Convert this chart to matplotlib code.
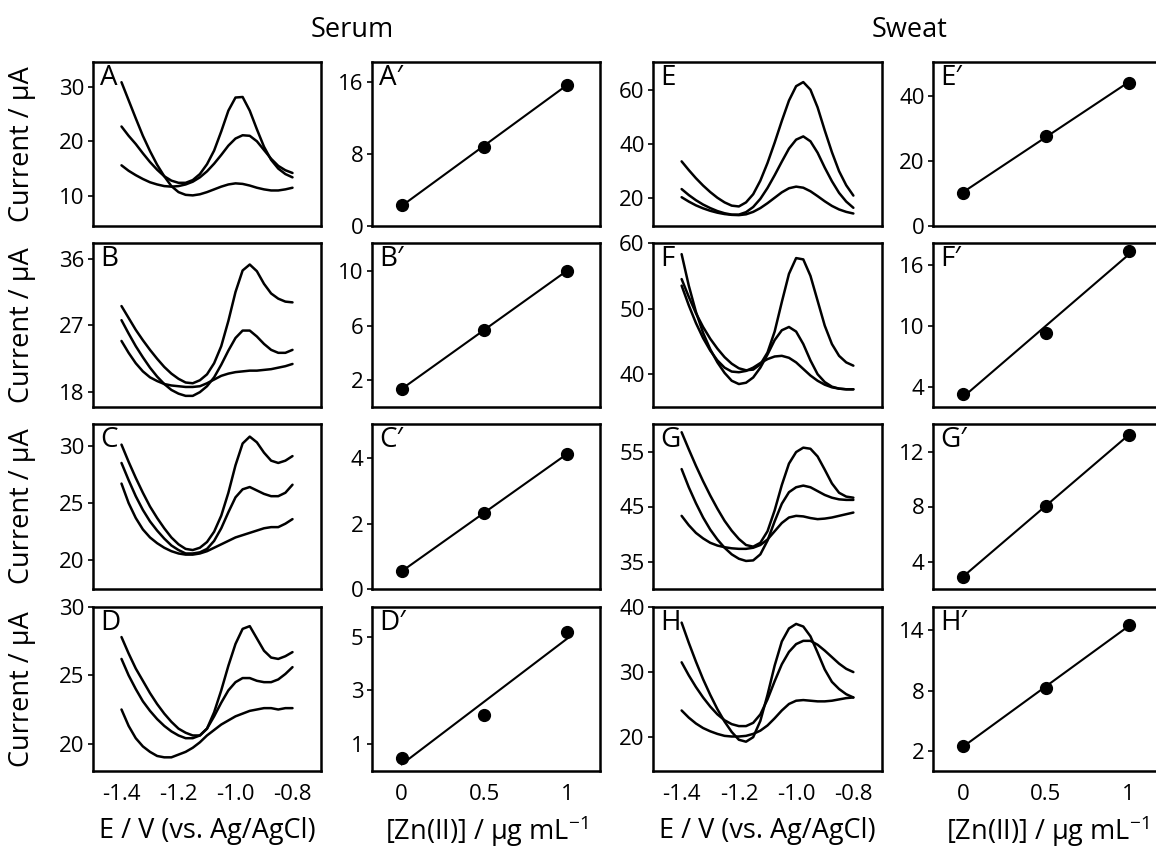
import matplotlib
matplotlib.use("Agg")
import matplotlib.pyplot as plt
import numpy as np

plt.rcParams['font.family'] = ['Open Sans', 'DejaVu Sans']
plt.rcParams['axes.unicode_minus'] = False
plt.rcParams['mathtext.fontset'] = 'custom'
plt.rcParams['mathtext.rm'] = 'Open Sans'

# ---------------- data ----------------
E = [-1.400, -1.375, -1.350, -1.325, -1.300, -1.275, -1.250, -1.225, -1.200,
     -1.175, -1.150, -1.125, -1.100, -1.075, -1.050, -1.025, -1.000, -0.975,
     -0.950, -0.925, -0.900, -0.875, -0.850, -0.825, -0.800]

# Serum
A_high = [22.7, 21.0, 19.5, 17.8, 16.2, 14.8, 13.6, 12.8, 12.4, 12.4, 12.9, 14.0, 15.8,
          18.3, 21.8, 25.6, 28.0, 28.1, 25.6, 22.2, 19.0, 16.6, 15.0, 14.0, 13.4]
A_mid = [15.6, 14.6, 13.8, 13.1, 12.5, 12.1, 11.8, 11.7, 11.8, 12.1, 12.6, 13.4, 14.5,
         15.9, 17.5, 19.2, 20.5, 21.1, 21.0, 20.0, 18.4, 16.8, 15.5, 14.7, 14.2]
A_low = [30.8, 27.5, 24.2, 21.0, 18.2, 15.7, 13.6, 11.8, 10.7, 10.2, 10.1, 10.3, 10.7,
         11.2, 11.7, 12.1, 12.3, 12.2, 11.9, 11.5, 11.2, 11.0, 11.0, 11.2, 11.5]

B_high = [29.6, 28.0, 26.4, 25.0, 23.7, 22.5, 21.4, 20.5, 19.8, 19.3, 19.2, 19.6, 20.4,
          21.9, 24.2, 27.6, 31.5, 34.4, 35.2, 34.3, 32.6, 31.3, 30.6, 30.2, 30.1]
B_mid = [27.7, 25.9, 24.2, 22.7, 21.3, 20.1, 19.1, 18.3, 17.8, 17.5, 17.5, 18.0, 18.8,
         20.0, 21.7, 23.6, 25.3, 26.3, 26.3, 25.5, 24.5, 23.7, 23.3, 23.3, 23.7]
B_low = [24.9, 23.3, 21.9, 20.8, 20.0, 19.5, 19.1, 18.9, 18.8, 18.7, 18.7, 18.8, 19.2,
         19.7, 20.2, 20.5, 20.7, 20.8, 20.9, 20.9, 21.0, 21.1, 21.3, 21.5, 21.8]

C_high = [30.1, 28.6, 27.2, 25.9, 24.7, 23.7, 22.8, 22.0, 21.4, 21.0, 20.9, 21.1, 21.6,
          22.5, 23.9, 25.9, 28.3, 30.2, 30.8, 30.3, 29.4, 28.7, 28.5, 28.7, 29.1]
C_mid = [28.5, 27.0, 25.6, 24.4, 23.4, 22.6, 21.9, 21.3, 20.9, 20.6, 20.6, 20.7, 21.0,
         21.7, 22.8, 24.2, 25.5, 26.2, 26.4, 26.1, 25.8, 25.6, 25.6, 25.9, 26.6]
C_low = [26.7, 25.0, 23.7, 22.7, 22.0, 21.5, 21.1, 20.8, 20.6, 20.5, 20.5, 20.6, 20.8,
         21.1, 21.4, 21.7, 22.0, 22.2, 22.4, 22.6, 22.8, 22.9, 22.9, 23.2, 23.6]

D_high = [27.8, 26.6, 25.5, 24.6, 23.7, 22.9, 22.2, 21.6, 21.1, 20.8, 20.6, 20.6, 21.1,
          22.3, 23.9, 25.7, 27.3, 28.4, 28.6, 27.7, 26.8, 26.3, 26.2, 26.4, 26.7]
D_mid = [26.2, 25.0, 24.0, 23.1, 22.4, 21.8, 21.3, 20.9, 20.6, 20.4, 20.4, 20.6, 21.1,
         22.0, 23.0, 23.9, 24.5, 24.8, 24.8, 24.6, 24.5, 24.5, 24.7, 25.1, 25.6]
D_low = [22.5, 21.3, 20.4, 19.8, 19.4, 19.1, 19.0, 19.0, 19.2, 19.4, 19.7, 20.1, 20.6,
         21.0, 21.4, 21.7, 22.0, 22.2, 22.4, 22.5, 22.6, 22.6, 22.5, 22.6, 22.6]

# Sweat
E_high = [33.6, 30.4, 27.4, 24.7, 22.3, 20.2, 18.5, 17.3, 17.0, 18.5, 21.5, 26.5, 33.0,
          40.5, 48.5, 56.0, 61.3, 62.8, 60.0, 53.5, 45.0, 37.0, 30.0, 24.8, 21.0]
E_mid = [23.4, 21.2, 19.3, 17.7, 16.4, 15.3, 14.5, 14.0, 14.0, 14.9, 16.8, 19.8, 23.8,
         28.5, 33.5, 38.3, 41.6, 42.8, 41.0, 36.8, 31.3, 26.3, 22.0, 18.8, 16.5]
E_low = [20.4, 18.8, 17.4, 16.3, 15.4, 14.7, 14.2, 13.9, 13.8, 14.1, 15.0, 16.4, 18.2,
         20.2, 22.2, 23.7, 24.3, 23.9, 22.6, 20.8, 18.9, 17.2, 15.9, 15.0, 14.4]

F_high = [54.5, 51.8, 49.3, 47.2, 45.4, 43.9, 42.6, 41.6, 40.9, 40.6, 40.7, 41.5, 43.3,
          46.5, 51.0, 55.3, 57.7, 57.5, 55.0, 51.2, 47.4, 44.6, 42.8, 41.8, 41.3]
F_mid = [58.3, 53.5, 49.5, 46.3, 43.8, 41.8, 40.2, 39.0, 38.5, 38.7, 39.5, 41.0, 43.0,
         45.2, 46.7, 47.2, 46.5, 44.6, 42.1, 40.0, 38.8, 38.1, 37.8, 37.7, 37.7]
F_low = [53.5, 50.5, 47.8, 45.5, 43.6, 42.1, 41.0, 40.4, 40.3, 40.5, 41.0, 41.7, 42.3,
         42.7, 42.8, 42.5, 41.8, 40.8, 39.8, 39.0, 38.4, 38.0, 37.8, 37.7, 37.7]

G_high = [58.5, 55.4, 52.4, 49.6, 47.0, 44.6, 42.4, 40.6, 39.1, 38.0, 37.7, 38.4, 40.5,
          44.3, 48.9, 52.8, 54.9, 55.7, 55.5, 54.1, 51.7, 49.2, 47.5, 46.8, 46.6]
G_mid = [51.8, 48.5, 45.6, 43.0, 40.8, 39.0, 37.5, 36.3, 35.5, 35.1, 35.2, 36.3, 38.8,
         42.3, 45.5, 47.6, 48.5, 48.8, 48.5, 47.8, 47.1, 46.6, 46.3, 46.2, 46.2]
G_low = [43.3, 41.6, 40.2, 39.2, 38.4, 37.9, 37.6, 37.4, 37.3, 37.3, 37.5, 38.0, 39.0,
         40.5, 42.0, 43.0, 43.3, 43.2, 42.9, 42.7, 42.8, 43.0, 43.3, 43.6, 43.9]

H_high = [37.6, 34.5, 31.6, 28.9, 26.5, 24.3, 22.4, 20.8, 19.6, 19.3, 20.0, 22.5, 26.5,
          31.0, 34.7, 36.7, 37.4, 37.0, 35.5, 33.0, 30.4, 28.5, 27.4, 26.6, 26.1]
H_mid = [31.5, 29.5, 27.7, 26.1, 24.7, 23.5, 22.6, 22.0, 21.7, 21.7, 22.2, 23.5, 25.8,
         28.6, 31.2, 33.1, 34.3, 34.8, 34.8, 34.2, 33.3, 32.3, 31.3, 30.5, 30.0]
H_low = [24.1, 23.0, 22.1, 21.4, 20.9, 20.5, 20.2, 20.1, 20.1, 20.2, 20.5, 21.0, 21.8,
         22.9, 24.1, 25.1, 25.6, 25.7, 25.6, 25.5, 25.5, 25.6, 25.8, 26.0, 26.1]

# Calibration
conc = [0, 0.5, 1]
A_cal = [2.3, 8.8, 15.7]
B_cal = [1.33, 5.7, 10.05]
C_cal = [0.54, 2.34, 4.13]
D_cal = [0.49, 2.1, 5.16]
E_cal = [10.2, 27.6, 44.1]
F_cal = [3.3, 9.35, 17.4]
G_cal = [2.88, 8.07, 13.2]
H_cal = [2.49, 8.23, 14.5]

E_ticks = [-1.4, -1.2, -1.0, -0.8]
E_ticklabels = ['-1.4', '-1.2', '-1.0', '-0.8']
conc_ticks = [0, 0.5, 1]
conc_ticklabels = ['0', '0.5', '1']

volt_yticks = {'A': [10, 20, 30], 'B': [18, 27, 36], 'C': [20, 25, 30], 'D': [20, 25, 30],
               'E': [20, 40, 60], 'F': [40, 50, 60], 'G': [35, 45, 55], 'H': [20, 30, 40]}
volt_ylim = {'A': (4.5, 34.5), 'B': (16, 38.1), 'C': (17.5, 31.9), 'D': (18, 30),
             'E': (9.8, 70.2), 'F': (35, 60), 'G': (30, 60), 'H': (14.8, 40)}
cal_yticks = {'A': [0, 8, 16], 'B': [2, 6, 10], 'C': [0, 2, 4], 'D': [1, 3, 5],
              'E': [0, 20, 40], 'F': [4, 10, 16], 'G': [4, 8, 12], 'H': [2, 8, 14]}
cal_ylim = {'A': (0, 18.2), 'B': (0, 12.1), 'C': (0, 5.05), 'D': (0, 6.1),
            'E': (0, 50.4), 'F': (2, 18.2), 'G': (2, 14), 'H': (0, 16.3)}

volt = {'A': (A_high, A_mid, A_low), 'B': (B_high, B_mid, B_low),
        'C': (C_high, C_mid, C_low), 'D': (D_high, D_mid, D_low),
        'E': (E_high, E_mid, E_low), 'F': (F_high, F_mid, F_low),
        'G': (G_high, G_mid, G_low), 'H': (H_high, H_mid, H_low)}
cal = {'A': A_cal, 'B': B_cal, 'C': C_cal, 'D': D_cal,
       'E': E_cal, 'F': F_cal, 'G': G_cal, 'H': H_cal}

# ---------------- layout ----------------
W, H = 1156, 850
fig = plt.figure(figsize=(W / 100, H / 100), dpi=100)
fig.patch.set_facecolor('white')

cols = [(93, 321), (372, 600), (653, 882), (933, 1162)]
rows = [(62, 226), (243, 407), (424, 589), (607, 771)]

TICK_FS = 16
LAB_FS = 19.5
LET_FS = 20


def add_ax(c, r):
    l, rr = cols[c]
    t, b = rows[r]
    ax = fig.add_axes([l / W, 1 - b / H, (rr - l) / W, (b - t) / H])
    for s in ax.spines.values():
        s.set_linewidth(1.8)
    ax.tick_params(axis='y', length=3.5, width=1.2, pad=2.5, labelsize=TICK_FS)
    ax.tick_params(axis='x', length=0, width=1.2, pad=9, labelsize=TICK_FS)
    return ax


serum = ['A', 'B', 'C', 'D']
sweat = ['E', 'F', 'G', 'H']

for gi, group in enumerate([serum, sweat]):
    for r, key in enumerate(group):
        # voltammogram
        ax = add_ax(2 * gi, r)
        for y in volt[key]:
            ax.plot(E, y, color='black', lw=1.8, solid_capstyle='round',
                    solid_joinstyle='round')
        ax.set_xlim(-1.5, -0.7)
        ax.set_ylim(*volt_ylim[key])
        ax.set_yticks(volt_yticks[key])
        ax.set_xticks(E_ticks)
        if r == 3:
            ax.set_xticklabels(E_ticklabels)
        else:
            ax.tick_params(axis='x', labelbottom=False)
        ax.text(0.03, 0.985, key, transform=ax.transAxes, ha='left', va='top',
                fontsize=LET_FS)

        # calibration
        ax2 = add_ax(2 * gi + 1, r)
        yv = cal[key]
        k, b0 = np.polyfit(conc, yv, 1)
        xs = np.array([conc[0], conc[-1]])
        ax2.plot(xs, k * xs + b0, color='black', lw=1.5)
        ax2.plot(conc, yv, 'o', color='black', ms=8.5)
        ax2.set_xlim(-0.18, 1.2)
        ax2.set_ylim(*cal_ylim[key])
        ax2.set_yticks(cal_yticks[key])
        ax2.set_xticks(conc_ticks)
        if r == 3:
            ax2.set_xticklabels(conc_ticklabels)
        else:
            ax2.tick_params(axis='x', labelbottom=False)
        ax2.text(0.03, 0.985, key + '\u2032', transform=ax2.transAxes, ha='left',
                 va='top', fontsize=LET_FS)

# titles
fig.text(352 / W, 1 - 30 / H, 'Serum', ha='center', va='center', fontsize=LAB_FS)
fig.text(910 / W, 1 - 30 / H, 'Sweat', ha='center', va='center', fontsize=LAB_FS)

# y labels
for (t, b) in rows:
    fig.text(22 / W, 1 - (t + b) / 2 / H, 'Current / \u03bcA', rotation=90,
             ha='center', va='center', fontsize=LAB_FS)

# x labels
xl_y = 1 - 831 / H
for c in (0, 2):
    l, rr = cols[c]
    fig.text((l + rr) / 2 / W, xl_y, 'E / V (vs. Ag/AgCl)', ha='center',
             va='center', fontsize=LAB_FS)
for c in (1, 3):
    l, rr = cols[c]
    fig.text((l + rr) / 2 / W, xl_y, '[Zn(II)] / \u03bcg mL$^{\\mathregular{-1}}$',
             ha='center', va='center', fontsize=LAB_FS)

fig.savefig('out.png', dpi=100, facecolor='white')
